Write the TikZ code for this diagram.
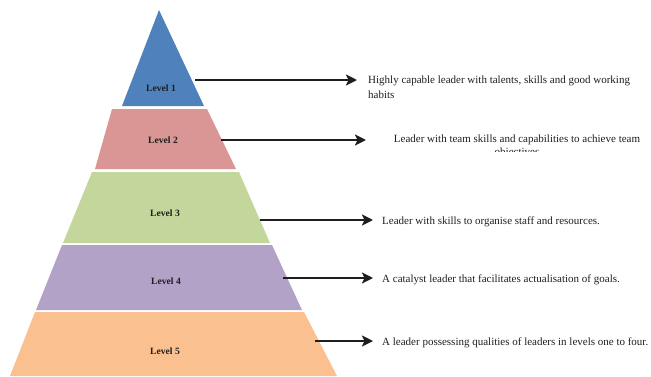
\documentclass[tikz,border=0pt]{standalone}
\usepackage{fontspec}
\setmainfont{Liberation Serif}
\usetikzlibrary{arrows.meta}
\definecolor{cL1}{HTML}{4F81BD}
\definecolor{cL2}{HTML}{D99694}
\definecolor{cL3}{HTML}{C3D69B}
\definecolor{cL4}{HTML}{B3A2C7}
\definecolor{cL5}{HTML}{FAC090}
\definecolor{ink}{HTML}{1E1E1E}
\tikzset{
  lvl/.style={font=\fontsize{9.6}{10}\selectfont\bfseries, text=ink, inner sep=0pt},
  desc/.style={font=\fontsize{11}{15}\selectfont, text=ink, inner sep=0pt, anchor=base west, align=left},
  arr/.style={draw=ink, line width=2.8pt, -{Stealth[length=11pt,width=11pt,inset=2.5pt]}}
}
\begin{document}
\begin{tikzpicture}[x=1pt,y=-1pt]
\useasboundingbox (0,0) rectangle (651,376);
% pyramid tiers
\fill[cL1] (159,10) -- (204,106) -- (122,106) -- cycle;
\fill[cL2] (112,109) -- (207,109) -- (236,169) -- (95,169) -- cycle;
\fill[cL3] (92,172) -- (239,172) -- (270,243) -- (63,243) -- cycle;
\fill[cL4] (62,245) -- (272,245) -- (302,310) -- (36,310) -- cycle;
\fill[cL5] (35,312) -- (304,312) -- (337,376) -- (10,376) -- cycle;
% level labels
\node[lvl] (l1) at (161,88) {Level 1};
\node[lvl] (l2) at (163,140) {Level 2};
\node[lvl] (l3) at (165,213) {Level 3};
\node[lvl] (l4) at (166,281) {Level 4};
\node[lvl] (l5) at (165,351) {Level 5};
% arrow starts
\coordinate (s1) at (195,80);
\coordinate (s2) at (221,140);
\coordinate (s3) at (260,220);
\coordinate (s4) at (283,278);
\coordinate (s5) at (315,341);
% descriptions
\node[desc] (t1) at (368,98) {Highly capable leader with talents, skills and good working\\habits};
\begin{scope}
\clip (380,125) rectangle (651,151.5);
\node[desc, anchor=base, align=center, font=\fontsize{11}{13}\selectfont] (t2) at (517,155) {Leader with team skills and capabilities to achieve team\\objectives};
\end{scope}
\node[desc] (t3) at (382,224) {Leader with skills to organise staff and resources.};
\node[desc] (t4) at (382,282) {A catalyst leader that facilitates actualisation of goals.};
\node[desc] (t5) at (382,345) {A leader possessing qualities of leaders in levels one to four.};
% connectors
\draw[arr, shorten >=11pt] (s1) -- (s1 -| t1.west);
\coordinate (e2) at (366,140);
\draw[arr] (s2) -- (e2);
\draw[arr, shorten >=9pt] (s3) -- (s3 -| t3.west);
\draw[arr, shorten >=9pt] (s4) -- (s4 -| t4.west);
\draw[arr, shorten >=9pt] (s5) -- (s5 -| t5.west);
\end{tikzpicture}
\end{document}
